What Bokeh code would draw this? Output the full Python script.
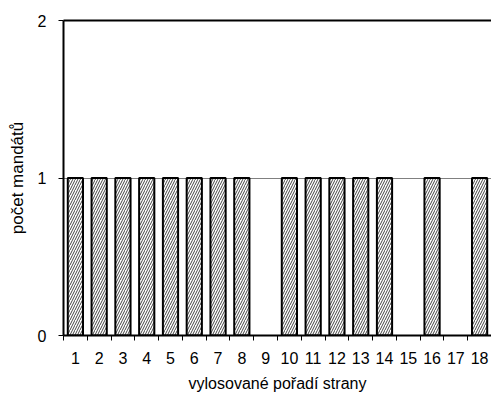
from bokeh.plotting import figure
from bokeh.models import FixedTicker, LinearAxis, ColumnDataSource, Range1d
from bokeh.embed import file_html
from bokeh.resources import INLINE

categories = [str(i) for i in range(1, 19)]
positions = list(range(1, 19))
mandates = [1, 1, 1, 1, 1, 1, 1, 1, 0, 1, 1, 1, 1, 1, 0, 1, 0, 1]
y_ticks = [0, 1, 2]

FONT = "Liberation Sans"

p = figure(width=491, height=394, output_backend="svg", toolbar_location=None,
           x_range=Range1d(0.5, 18.5), y_range=Range1d(0, 2),
           min_border_left=63, min_border_top=20, min_border_bottom=45, min_border_right=0)
p.outline_line_color = None
p.background_fill_color = "white"
p.border_fill_color = "white"

src = ColumnDataSource(dict(x=[x for x, v in zip(positions, mandates) if v > 0],
                            top=[v for v in mandates if v > 0]))
p.vbar(x="x", top="top", bottom=0, width=0.64, source=src,
       fill_color="white", line_color="black", line_width=2,
       hatch_pattern="/", hatch_color="#444444", hatch_scale=5, hatch_weight=1)

# axes
xa = p.xaxis[0]
xa.ticker = FixedTicker(ticks=positions, minor_ticks=[x + 0.5 for x in range(0, 19)])
xa.major_label_overrides = {pos: lab for pos, lab in zip(positions, categories)}
xa.major_tick_out = 0
xa.major_tick_in = 0
xa.minor_tick_out = 5
xa.minor_tick_in = 0
xa.minor_tick_line_color = "black"
xa.axis_line_width = 2
xa.axis_line_color = "black"
xa.axis_label = "vylosované pořadí strany"
xa.major_label_standoff = 11

ya = p.yaxis[0]
ya.ticker = FixedTicker(ticks=y_ticks, minor_ticks=[])
ya.major_tick_out = 5
ya.major_tick_in = 0
ya.major_tick_line_color = "black"
ya.axis_line_width = 2
ya.axis_line_color = "black"
ya.axis_label = "počet mandátů"
ya.major_label_standoff = 12

for ax in (xa, ya):
    ax.major_label_text_font = FONT
    ax.major_label_text_font_size = "16px"
    ax.major_label_text_color = "black"
    ax.axis_label_text_font = FONT
    ax.axis_label_text_font_size = "16px"
    ax.axis_label_text_font_style = "normal"
    ax.axis_label_text_color = "black"
ya.axis_label_text_font_size = "17px"
ya.axis_label_standoff = 8
xa.axis_label_standoff = 8

top = LinearAxis(ticker=FixedTicker(ticks=[]), axis_line_width=2, axis_line_color="black",
                 major_label_text_font_size="0px", major_tick_out=0, minor_tick_out=0)
p.add_layout(top, "above")

p.xgrid.visible = False
p.ygrid.ticker = FixedTicker(ticks=[1])
p.ygrid.grid_line_color = "#808080"
p.ygrid.grid_line_width = 1

open("out.html", "w").write(file_html(p, INLINE))
